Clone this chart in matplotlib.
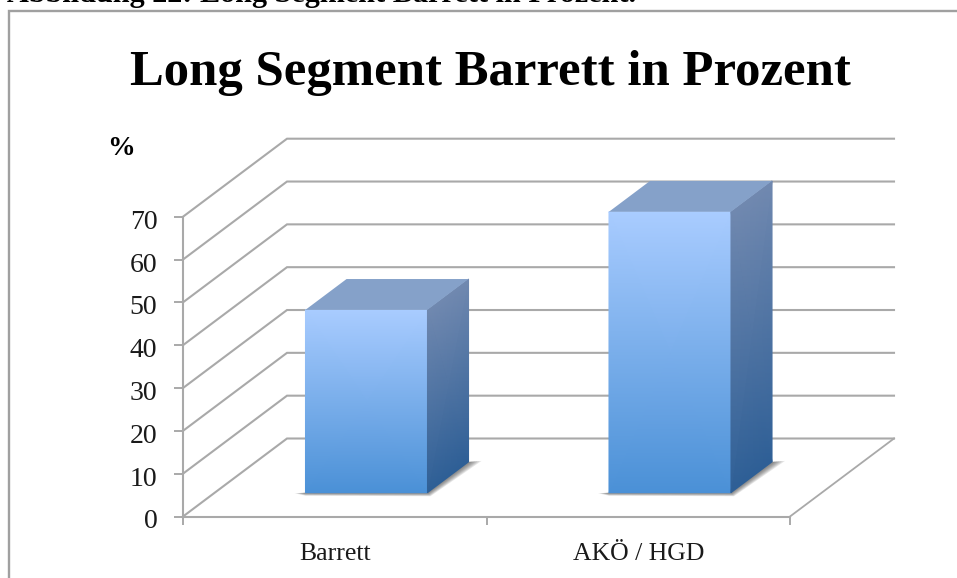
import numpy as np
import matplotlib
matplotlib.use("Agg")
import matplotlib.pyplot as plt
from matplotlib.colors import LinearSegmentedColormap
from matplotlib.patches import Polygon
from matplotlib.transforms import ScaledTranslation

# Chart data
categories = ["Barrett", "AKÖ / HGD"]
percent = [42.7, 65.6]
y_ticks = [0, 10, 20, 30, 40, 50, 60, 70]

W, H = 957, 578
GRID = "#a9a9a9"
TEXT = "#1a1a1a"
SERIF = ["Liberation Serif", "DejaVu Serif"]

fig = plt.figure(figsize=(W / 100, H / 100), dpi=100, facecolor="white")

# Page-level layer in pixel coordinates: caption and chart frame
page = fig.add_axes([0, 0, 1, 1], zorder=0)
page.set_xlim(0, W)
page.set_ylim(H, 0)
page.axis("off")
page.text(7, 2, "Abbildung 22: Long Segment Barrett in Prozent.", family=SERIF,
          fontsize=21.8, fontweight="bold", color="black", va="baseline", ha="left")
page.plot([8.5, 8.5, W], [H, 10.5, 10.5], color="#a0a0a0", lw=1.7, solid_joinstyle="miter")

# Front plane of the plot box; depth is added through an oblique offset
AX_L, AX_R, AX_B, AX_T = 183, 790, 516.5, 216.7
ax = fig.add_axes([AX_L / W, 1 - AX_B / H, (AX_R - AX_L) / W, (AX_B - AX_T) / H], zorder=1)
ax.set_xlim(0, len(categories))
ax.set_ylim(0, 70)
ax.patch.set_alpha(0)
for side in ("top", "right"):
    ax.spines[side].set_visible(False)
for side in ("left", "bottom"):
    ax.spines[side].set_color(GRID)
    ax.spines[side].set_linewidth(1.5)

unit_x = (AX_R - AX_L) / len(categories)
unit_y = (AX_B - AX_T) / 70
DX = 104.0 / unit_x
DY = 78.0 / unit_y


def project(x, y, depth):
    """Oblique projection of a point at a given depth (0 front, 1 back)."""
    return x + depth * DX, y + depth * DY


def nudge(point, right_px, up_px):
    """Shift a data-space point by a distance given in pixels."""
    return point[0] + right_px / unit_x, point[1] + up_px / unit_y


# Back wall gridlines with their diagonal runs along the side wall
for t in y_ticks:
    xs = [0, DX, len(categories) + DX]
    ys = [t, t + DY, t + DY]
    ax.plot(xs, ys, color=GRID, lw=1.5, clip_on=False, zorder=1,
            solid_joinstyle="miter")
# Right floor edge
ax.plot([len(categories), len(categories) + DX], [0, DY], color=GRID, lw=1.3,
        clip_on=False, zorder=1)

ax.set_xticks(range(len(categories) + 1))
ax.set_xticklabels([])
ax.set_yticks(y_ticks)
ax.tick_params(axis="x", color=GRID, width=1.4, length=5.5)
ax.tick_params(axis="y", color=GRID, width=1.4, length=6.5, labelsize=20,
               labelcolor=TEXT, pad=12)
label_shift = ScaledTranslation(0, -2.5 / 100, fig.dpi_scale_trans)
for lab in ax.get_yticklabels():
    lab.set_family(SERIF)
    lab.set_transform(lab.get_transform() + label_shift)
for i, name in enumerate(categories):
    ax.annotate(name, xy=(i + 0.5, 0), xycoords="data", xytext=(0, -31.3),
                textcoords="offset points", ha="center", va="baseline",
                family=SERIF, fontsize=18.5, color=TEXT, annotation_clip=False)

fig.text(121 / W, 1 - 155 / H, "%", family=SERIF, fontsize=20, fontweight="bold",
         color="black", ha="center", va="baseline")
fig.text(490 / W, 1 - 85 / H, "Long Segment Barrett in Prozent", family=SERIF,
         fontsize=36.5, fontweight="bold", color="black", ha="center", va="baseline")

front_cmap = LinearSegmentedColormap.from_list("front", ["#4a90d6", "#7aaae6", "#a9ccff"])
side_cmap = LinearSegmentedColormap.from_list("side", ["#2e5f96", "#53779f", "#7189b0"])

BAR_W = 122.0 / unit_x
D0, D1 = 0.305, 0.70
for i, value in enumerate(percent):
    left = i + 0.5 - BAR_W / 2
    right = i + 0.5 + BAR_W / 2

    # Soft floor shadow built from stacked translucent layers
    front_left = project(left, 0, D0)
    front_right = project(right, 0, D0)
    back_right = project(right, 0, D1)
    for s in (1.0, 0.85, 0.7, 0.55, 0.4, 0.25):
        shadow = [nudge(front_left, -11 * s, -0.5),
                  nudge(front_left, 0, -3 * s),
                  nudge(front_right, 3 * s, -3.5 * s),
                  nudge(back_right, 13 * s, -1 * s + 2 * s),
                  back_right, front_left]
        ax.add_patch(Polygon(shadow, closed=True, fc="#3c3c3c", ec="none", alpha=0.13,
                             zorder=2, clip_on=False))

    # Front face
    x0, y0 = front_left
    x1 = front_right[0]
    X, Y = np.meshgrid([x0, x1], np.linspace(y0, y0 + value, 2))
    ax.pcolormesh(X, Y, np.array([[0.0, 0.0], [1.0, 1.0]]), cmap=front_cmap, vmin=0, vmax=1,
                  shading="gouraud", zorder=4, clip_on=False)

    # Side face, sheared along the depth direction
    depth = np.array([D0, D1])
    heights = np.linspace(0, value, 2)
    sx = right + depth[None, :] * DX + 0 * heights[:, None]
    sy = heights[:, None] + depth[None, :] * DY
    ax.pcolormesh(sx, sy, np.array([[0.0, 0.0], [1.0, 1.0]]), cmap=side_cmap, vmin=0, vmax=1,
                  shading="gouraud", zorder=4, clip_on=False)

    # Top face
    top = [project(left, value, D0), project(right, value, D0),
           project(right, value, D1), project(left, value, D1)]
    ax.add_patch(Polygon(top, closed=True, fc="#85a1c9", ec="none", zorder=4, clip_on=False))

fig.savefig("out.png", dpi=100)
